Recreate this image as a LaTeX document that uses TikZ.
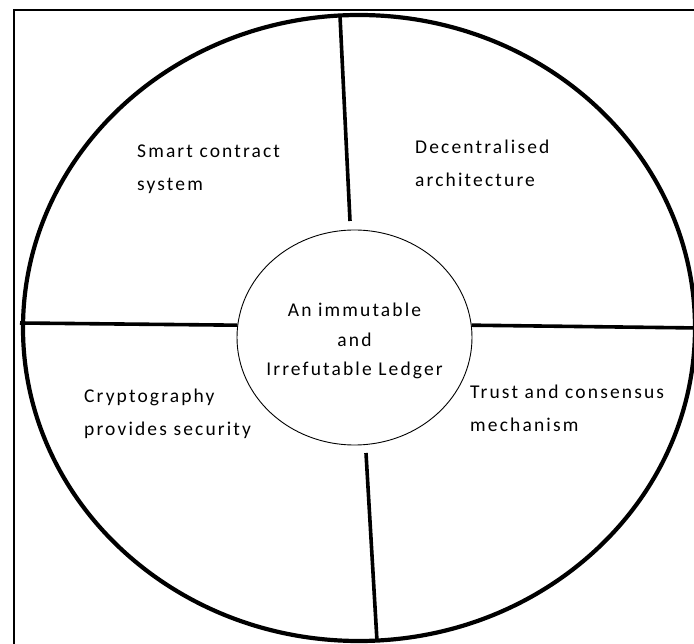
\documentclass[tikz,border=0pt]{standalone}
\usepackage{fontspec}
\setmainfont{Carlito}[LetterSpace=11]
\usetikzlibrary{shapes.geometric}
\begin{document}
\begin{tikzpicture}[x=1pt,y=-1pt,
  lbl/.style={inner sep=0pt,align=left,anchor=west,font=\fontsize{19.5}{33}\selectfont},
  divider/.style={line width=3.6pt},
  ring/.style={line width=4.2pt},
  hub/.style={ellipse,draw,line width=0.9pt,minimum width=235pt,minimum height=215pt,inner sep=0pt},
  hubtext/.style={inner sep=0pt,align=center,font=\fontsize{19.5}{29.5}\selectfont}]
\useasboundingbox (0,0) rectangle (694,644);
\clip (0,0) rectangle (694,644);
\draw[line width=2.4pt] (14,10) rectangle (710,660);
\draw[ring] (359,328) ellipse [x radius=336, y radius=313];
\node[hub] (hub) at (354.5,337.5) {};
\node[hubtext] (hubtxt) at ([yshift=-3.5pt]hub.center) {An immutable\\and\\Irrefutable Ledger};
% divider end points
\coordinate (t1) at (340,16);
\coordinate (t2) at (350,221);
\coordinate (l1) at (20,323);
\coordinate (l2) at (hub.174);
\coordinate (r1) at (hub.6);
\coordinate (r2) at (700,328);
\coordinate (b1) at (366,453);
\coordinate (b2) at (377,641);
\draw[divider] (t1) -- (t2);
\draw[divider] (l1) -- (l2);
\draw[divider] (r1) -- (r2);
\draw[divider] (b1) -- (b2);
\node[lbl] (smart) at (137,169) {Smart contract\\system};
\node[lbl] (dec) at (415,163) {Decentralised\\architecture};
\node[lbl] (crypto) at (84,414) {Cryptography\\provides security};
\node[lbl] (trust) at (470,408) {Trust and consensus\\mechanism};
\end{tikzpicture}
\end{document}
